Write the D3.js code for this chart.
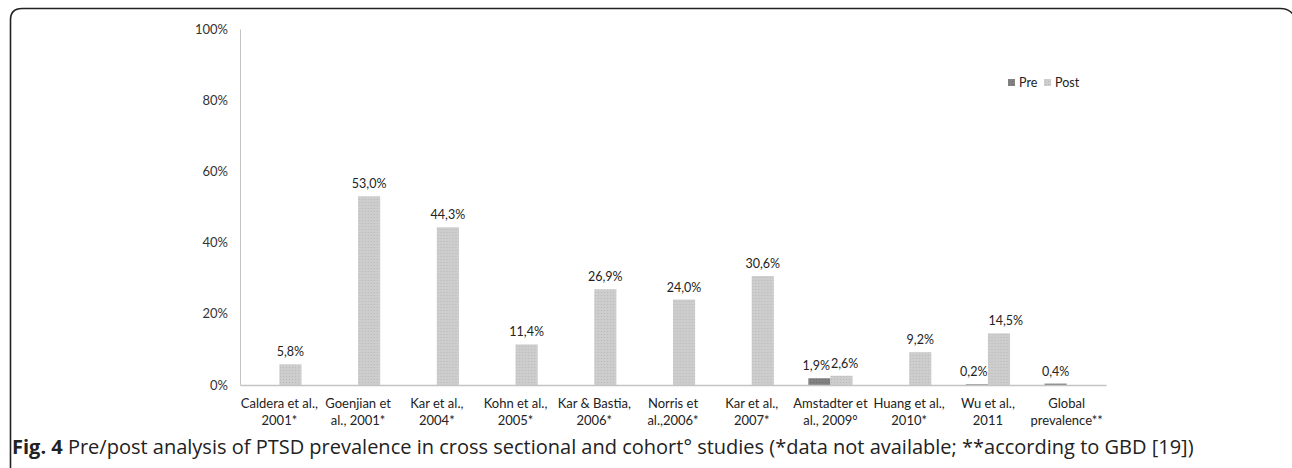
<!DOCTYPE html>
<html>
<head>
<meta charset="utf-8">
<script src="https://cdn.jsdelivr.net/npm/d3@7"></script>
<style>
  html, body { margin: 0; padding: 0; background: #fff; }
  svg { display: block; }
</style>
</head>
<body>
<svg id="chart" width="1292" height="468"></svg>
<script>
// Studies (two-line labels) and PTSD prevalence (%) before / after the event
const categories = [
  ["Caldera et al.,", "2001*"],
  ["Goenjian et", "al., 2001*"],
  ["Kar et al.,", "2004*"],
  ["Kohn et al.,", "2005*"],
  ["Kar & Bastia,", "2006*"],
  ["Norris et", "al.,2006*"],
  ["Kar et al.,", "2007*"],
  ["Amstadter et", "al., 2009°"],
  ["Huang et al.,", "2010*"],
  ["Wu et al.,", "2011"],
  ["Global", "prevalence**"]
];
const preValues  = [null, null, null, null, null, null, null, 1.9, null, 0.2, 0.4];
const postValues = [5.8, 53.0, 44.3, 11.4, 26.9, 24.0, 30.6, 2.6, 9.2, 14.5, null];
const seriesNames = ["Pre", "Post"];
const yTicks = [0, 20, 40, 60, 80, 100];

const svg = d3.select("#chart");
const chartFont = "Lato, 'Open Sans', sans-serif";
const captionFont = "'Open Sans', 'Noto Sans', sans-serif";

// Rounded frame around the figure
svg.append("path")
  .attr("d", "M10.5,468 L10.5,20 Q10.5,8.5 22,8.5 L1280,8.5 Q1290,8.5 1294,16")
  .attr("fill", "none").attr("stroke", "#222").attr("stroke-width", 1.6);

// Bar textures
const defs = svg.append("defs");
function dotPattern(id, base, dot) {
  const p = defs.append("pattern").attr("id", id)
    .attr("width", 3).attr("height", 3).attr("patternUnits", "userSpaceOnUse");
  p.append("rect").attr("width", 3).attr("height", 3).attr("fill", base);
  p.append("rect").attr("x", 1).attr("y", 1).attr("width", 1).attr("height", 1).attr("fill", dot);
}
dotPattern("texPost", "#cdcdcd", "#b9b9b9");
dotPattern("texPre", "#828282", "#6c6c6c");
const fills = { Pre: "url(#texPre)", Post: "url(#texPost)" };

const plot = { left: 240, right: 1106, top: 29, bottom: 385 };

const x = d3.scaleBand()
  .domain(d3.range(categories.length))
  .range([plot.left, plot.right])
  .paddingInner(0).paddingOuter(0);

const x1 = d3.scaleBand()
  .domain(seriesNames)
  .range([0, x.bandwidth()])
  .paddingInner(0).paddingOuter(0.78);

const y = d3.scaleLinear().domain([0, 100]).range([plot.bottom, plot.top]);

const locale = d3.formatLocale({ decimal: ",", thousands: ".", grouping: [3], currency: ["", ""] });
const fmt = v => locale.format(".1f")(v) + "%";

// Y axis
const yAxis = svg.append("g")
  .attr("transform", `translate(${plot.left},0)`)
  .call(d3.axisLeft(y).tickValues(yTicks).tickSize(0).tickPadding(12).tickFormat(d => d + "%"));
yAxis.select(".domain").attr("stroke", "#c4c4c4");
yAxis.selectAll("text").attr("font-family", chartFont).attr("font-size", 13).attr("fill", "#333");

// Bars
const groups = svg.append("g").selectAll("g")
  .data(categories.map((c, i) => i))
  .join("g")
  .attr("transform", i => `translate(${x(i)},0)`);

const rows = i => {
  const both = preValues[i] !== null && postValues[i] !== null;
  return [
    { s: "Pre", v: preValues[i], both },
    { s: "Post", v: postValues[i], both }
  ].filter(d => d.v !== null);
};

groups.selectAll("rect")
  .data(i => rows(i))
  .join("rect")
  .attr("x", d => x1(d.s))
  .attr("width", x1.bandwidth())
  .attr("y", d => y(d.v))
  .attr("height", d => y(0) - y(d.v))
  .attr("fill", d => fills[d.s]);

// Value labels: centred over the bar; when both bars are present the two
// labels meet at the gap between the bars so they sit side by side.
const mid = x.bandwidth() / 2;
groups.selectAll("text.val")
  .data(i => rows(i))
  .join("text")
  .attr("class", "val")
  .attr("x", d => !d.both ? x1(d.s) + x1.bandwidth() / 2 : (d.s === "Pre" ? mid - 0.5 : mid + 0.5))
  .attr("y", d => y(d.v) - 8)
  .attr("text-anchor", d => !d.both ? "middle" : (d.s === "Pre" ? "end" : "start"))
  .attr("font-family", chartFont).attr("font-size", 12.5).attr("fill", "#222")
  .text(d => fmt(d.v));

// X axis
const xAxis = svg.append("g")
  .attr("transform", `translate(0,${plot.bottom})`)
  .call(d3.axisBottom(x).tickSize(0).tickFormat(""));
xAxis.select(".domain").attr("stroke", "#c4c4c4").attr("stroke-width", 1.5);

const catLabels = svg.append("g").selectAll("text")
  .data(categories)
  .join("text")
  .attr("x", (d, i) => x(i) + x.bandwidth() / 2)
  .attr("y", 408)
  .attr("text-anchor", "middle")
  .attr("font-family", chartFont).attr("font-size", 13).attr("fill", "#222");
catLabels.selectAll("tspan")
  .data(d => d)
  .join("tspan")
  .attr("x", function () { return d3.select(this.parentNode).attr("x"); })
  .attr("dy", (d, k) => k === 0 ? 0 : 17)
  .text(d => d);

// Legend
const legend = svg.append("g").attr("transform", "translate(1008,83)");
const legendPos = { Pre: 0, Post: 36 };
seriesNames.forEach(s => {
  const g = legend.append("g").attr("transform", `translate(${legendPos[s]},0)`);
  g.append("rect").attr("x", 0).attr("y", -4).attr("width", 7).attr("height", 7).attr("fill", fills[s]);
  g.append("text").attr("x", 11).attr("y", 0).attr("dy", "0.35em")
    .attr("font-family", chartFont).attr("font-size", 12.5).attr("fill", "#222").text(s);
});

// Caption
const cap = svg.append("text")
  .attr("x", 12).attr("y", 454)
  .attr("font-family", captionFont).attr("font-size", 20).attr("fill", "#222");
cap.append("tspan").attr("font-weight", "bold").text("Fig. 4");
cap.append("tspan").text(" Pre/post analysis of PTSD prevalence in cross sectional and cohort° studies (*data not available; **according to GBD [19])");
</script>
</body>
</html>
